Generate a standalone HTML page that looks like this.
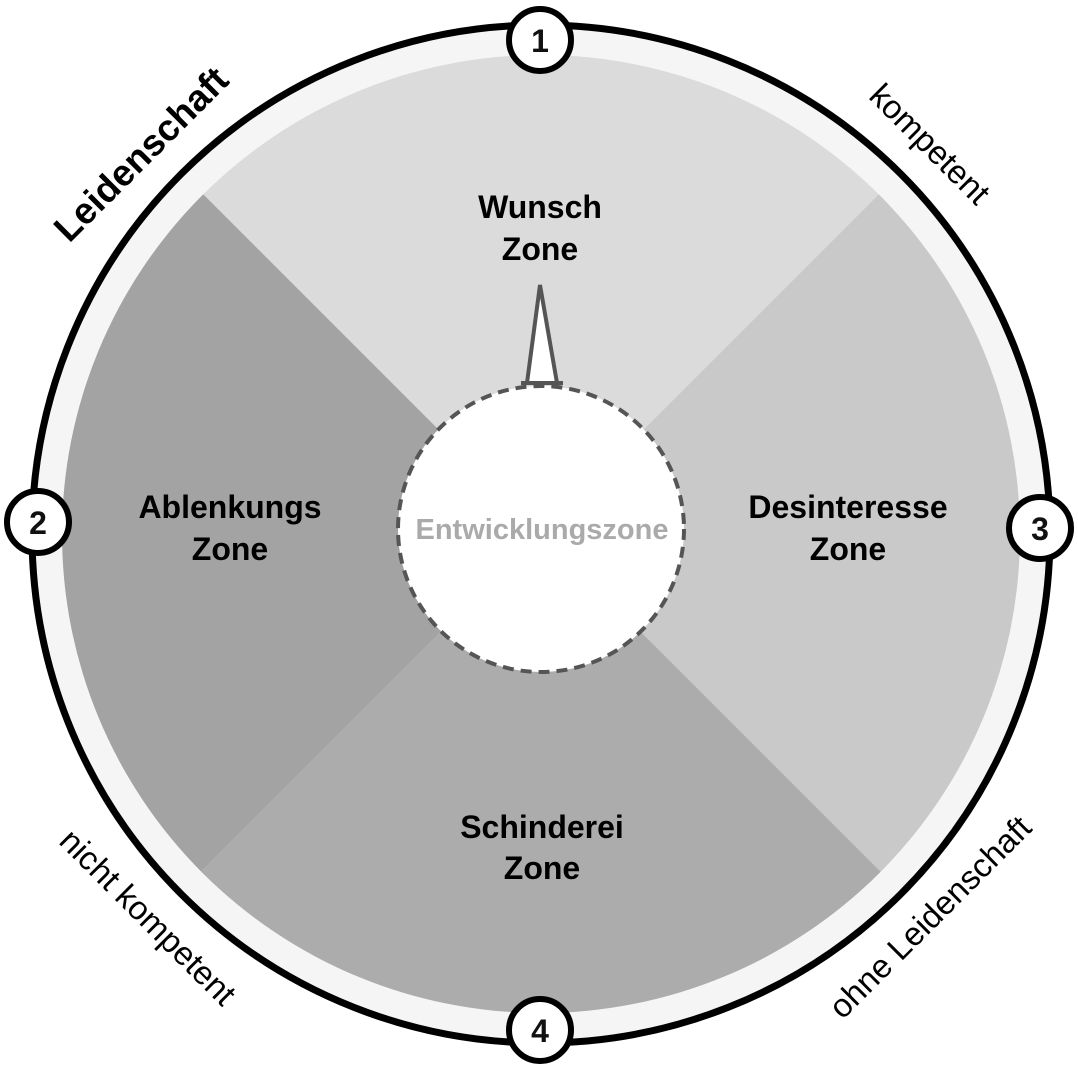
<!DOCTYPE html>
<html><head><meta charset="utf-8"><style>
html,body{margin:0;padding:0;background:#fff;overflow:hidden;width:1078px;height:1073px;}
svg{display:block;}
text{font-family:"Liberation Sans",Arial,sans-serif;}
</style></head><body>
<svg width="1078" height="1073" viewBox="0 0 1078 1073">
<defs><clipPath id="c"><circle cx="541" cy="534" r="479"/></clipPath></defs>
<circle cx="541" cy="534" r="509" fill="#f5f5f5" stroke="#000" stroke-width="7"/>
<g clip-path="url(#c)">
<polygon points="541,532 -200,-209 1282,-209" fill="#dbdbdb"/>
<polygon points="541,532 1282,-209 1282,1273" fill="#c9c9c9"/>
<polygon points="541,532 1282,1273 -200,1273" fill="#acacac"/>
<polygon points="541,532 -200,1273 -200,-209" fill="#a3a3a3"/>
</g>
<polygon points="527,383 540,285 557,383" fill="#fff" stroke="#555" stroke-width="4" stroke-linejoin="miter"/>
<line x1="521" y1="383" x2="533" y2="383" stroke="#555" stroke-width="4"/>
<line x1="551" y1="383" x2="563" y2="383" stroke="#555" stroke-width="4"/>
<circle cx="541" cy="529" r="143" fill="#fff" stroke="#555" stroke-width="4" stroke-dasharray="11 7"/>
<text x="542" y="539" text-anchor="middle" font-size="29" font-weight="bold" fill="#aaa">Entwicklungszone</text>
<g font-size="32" font-weight="bold" text-anchor="middle" fill="#000">
<text x="540" y="218">Wunsch</text><text x="540" y="260">Zone</text>
<text x="230" y="518">Ablenkungs</text><text x="230" y="560">Zone</text>
<text x="848" y="518">Desinteresse</text><text x="848" y="560">Zone</text>
<text x="542" y="838">Schinderei</text><text x="542" y="879">Zone</text>
</g>
<g stroke="#000" stroke-width="6" fill="#fff">
<circle cx="540" cy="40" r="31"/>
<circle cx="38" cy="522" r="31"/>
<circle cx="1040" cy="528" r="31"/>
<circle cx="540" cy="1030" r="31"/>
</g>
<g font-size="32" font-weight="bold" text-anchor="middle" fill="#111">
<text x="540" y="52">1</text><text x="38" y="534">2</text><text x="1040" y="540">3</text><text x="540" y="1042">4</text>
</g>
<text transform="translate(150,163) rotate(-45)" text-anchor="middle" font-size="37" font-weight="bold" fill="#000">Leidenschaft</text>
<text transform="translate(922,152) rotate(45)" text-anchor="middle" font-size="33" fill="#000">kompetent</text>
<text transform="translate(140,925) rotate(45)" text-anchor="middle" font-size="33" fill="#000">nicht kompetent</text>
<text transform="translate(938,925) rotate(-45)" text-anchor="middle" font-size="33" fill="#000">ohne Leidenschaft</text>
</svg>
</body></html>
